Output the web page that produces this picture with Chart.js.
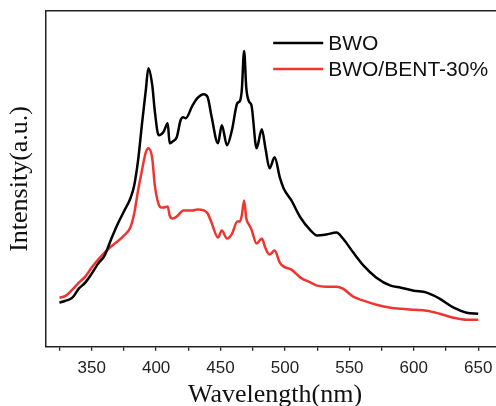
<!DOCTYPE html>
<html>
<head>
<meta charset="utf-8">
<script src="https://cdn.jsdelivr.net/npm/chart.js@4.4.1/dist/chart.umd.min.js"></script>
<style>
  html, body { margin: 0; padding: 0; background: #fff; overflow: hidden; }
  #wrap { width: 496px; height: 406px; overflow: hidden; }
  canvas { display: block; }
</style>
</head>
<body>
<div id="wrap"><canvas id="pl" width="504" height="406"></canvas></div>
<script>
// wavelength grid (nm), shared by both spectra
const wavelength = [325, 330, 335, 340, 345, 350, 355, 360, 365, 370, 375, 380, 383, 386, 389, 392, 394,
  397, 399, 402, 404, 406, 409, 410.5, 413, 416, 419, 421, 423, 428, 432, 437, 440, 443, 448, 451, 455,
  459, 463, 465, 466.5, 468.3, 470, 472, 474, 478, 482, 485, 488, 492, 496, 499, 505, 512, 520, 525, 532,
  540, 545, 553, 561, 571, 582, 590, 600, 610, 620, 631, 641, 650];

// PL intensity (a.u.)
const bwo = [44, 46, 49, 58, 64, 73, 83, 91, 107, 122, 135, 148, 161, 186, 222, 256, 278,
  261, 235, 211, 212, 215, 223, 203, 205, 209, 226, 229, 228, 240, 248, 252, 249, 230, 203, 221, 201,
  217, 243, 245, 256, 295, 258, 245, 241, 198, 217, 197, 178, 189, 169, 158, 146, 129, 116, 111, 112,
  114, 108, 94, 81, 69, 61, 59, 56, 54, 48, 39, 34, 33];

const bwoBent = [49, 51, 57, 64, 70, 79, 87, 94, 100, 105, 111, 119, 133, 156, 176, 194, 198,
  188, 161, 142, 139, 139, 140, 131, 128, 130, 134, 136, 136, 136, 137, 136, 133, 124, 109, 116, 108,
  113, 125, 125, 131, 146, 128, 122, 117, 103, 108, 98, 92, 96, 84, 80, 77, 69, 64, 61, 60,
  60, 58, 50, 46, 42, 39, 38, 37, 36, 33, 29, 27, 27];

const xTicks = [325, 350, 375, 400, 425, 450, 475, 500, 525, 550, 575, 600, 625, 650];
const seriesNames = ['BWO', 'BWO/BENT-30%'];

const pts = (ys) => wavelength.map((w, i) => ({ x: w, y: ys[i] }));

// legend drawn inside the plot, top right
const innerLegend = {
  id: 'innerLegend',
  afterDraw(chart) {
    const { ctx, chartArea } = chart;
    ctx.save();
    ctx.font = '21px "Liberation Sans", Arial, sans-serif';
    ctx.textBaseline = 'middle';
    chart.data.datasets.forEach((ds, i) => {
      const y = chartArea.top + 32 + i * 26;
      const x0 = chartArea.left + 227;
      ctx.strokeStyle = ds.borderColor;
      ctx.lineWidth = 2.5;
      ctx.beginPath();
      ctx.moveTo(x0, y);
      ctx.lineTo(x0 + 50, y);
      ctx.stroke();
      ctx.fillStyle = '#111';
      ctx.fillText(ds.label, x0 + 55, y + 1);
    });
    ctx.restore();
  }
};

new Chart(document.getElementById('pl'), {
  type: 'line',
  data: {
    datasets: [
      { label: seriesNames[0], data: pts(bwo), borderColor: '#000000', borderWidth: 2.5,
        pointRadius: 0, fill: false, cubicInterpolationMode: 'monotone' },
      { label: seriesNames[1], data: pts(bwoBent), borderColor: '#f03530', borderWidth: 2.5,
        pointRadius: 0, fill: false, cubicInterpolationMode: 'monotone' }
    ]
  },
  options: {
    responsive: false,
    animation: false,
    layout: { padding: { top: 11, right: 0, left: 0, bottom: 0 } },
    plugins: { legend: { display: false }, tooltip: { enabled: false } },
    scales: {
      x: {
        type: 'linear',
        min: 314.7,
        max: 670,
        afterBuildTicks: (s) => { s.ticks = xTicks.map(v => ({ value: v })); },
        grid: { display: true, drawOnChartArea: false, drawTicks: true, tickLength: 4, color: '#222', lineWidth: 1.3 },
        border: { display: true, color: '#222', width: 1.5 },
        ticks: {
          padding: 7,
          color: '#222',
          font: { family: '"Liberation Sans", Arial, sans-serif', size: 17 },
          maxRotation: 0,
          autoSkip: false,
          callback: (v) => (v % 50 === 0 ? String(v) : '')
        },
        title: {
          display: true, text: 'Wavelength(nm)', color: '#111',
          font: { family: '"Liberation Serif", "Times New Roman", serif', size: 26, lineHeight: 0.8 },
          padding: { top: 0, bottom: 0 }
        }
      },
      x2: {
        type: 'linear', position: 'top', min: 314.7, max: 670,
        grid: { display: false, drawTicks: false },
        ticks: { display: false },
        border: { display: true, color: '#222', width: 1.5 }
      },
      y: {
        min: 0,
        max: 335,
        grid: { display: false, drawTicks: false },
        ticks: { display: false },
        border: { display: true, color: '#222', width: 1.5 },
        title: {
          display: true, text: 'Intensity(a.u.)', color: '#111',
          font: { family: '"Liberation Serif", "Times New Roman", serif', size: 26 },
          padding: { top: 5, bottom: 10 }
        }
      }
    }
  },
  plugins: [innerLegend]
});
</script>
</body>
</html>
